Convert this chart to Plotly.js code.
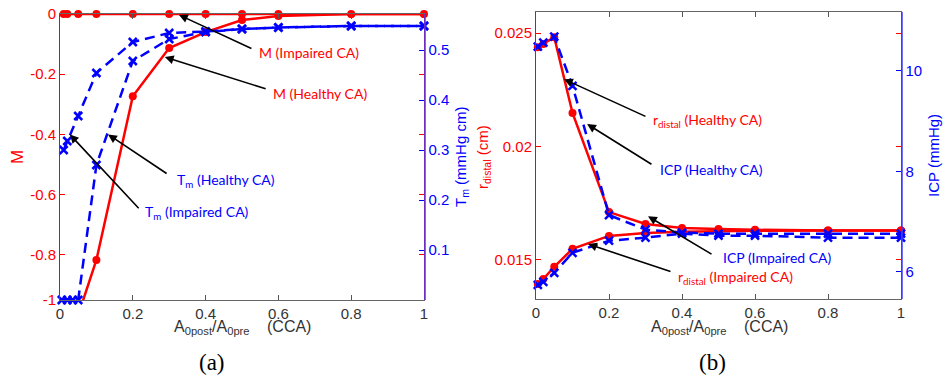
<!DOCTYPE html>
<html>
<head>
<meta charset="utf-8">
<script src="https://cdn.plot.ly/plotly-3.0.1.min.js"></script>
<style>html,body{margin:0;padding:0;background:#fff;}#chart{width:943px;height:378px;}</style>
</head>
<body>
<div id="chart"></div>
<script>
// ---- Panel (a) data ----
const xM = [0.01, 0.02, 0.05, 0.1, 0.2, 0.3, 0.4, 0.5, 0.6, 0.8, 1.0];
const mImpaired = [0, 0, 0, 0, 0, 0, 0, 0, 0, 0, 0];
const mHealthy = [-1, -1, -1, -0.817, -0.273, -0.113, -0.06, -0.02, -0.007, 0, 0];
const xTmImpaired = [0.01, 0.02, 0.05, 0.1, 0.2, 0.3, 0.4, 0.5, 0.6, 0.8, 1.0];
const tmImpaired = [0.30, 0.318, 0.368, 0.454, 0.516, 0.534, 0.537, 0.542, 0.545, 0.548, 0.548];
const xTmHealthy = [0.005, 0.02, 0.035, 0.05, 0.1, 0.2, 0.3, 0.4, 0.5, 0.6, 0.8, 1.0];
const tmHealthy = [0, 0, 0, 0, 0.27, 0.478, 0.522, 0.536, 0.542, 0.545, 0.548, 0.548];

// ---- Panel (b) data ----
const xR = [0.005, 0.02, 0.05, 0.1, 0.2, 0.3, 0.4, 0.5, 0.6, 0.8, 1.0];
const rHealthy = [0.02438, 0.02452, 0.02482, 0.02148, 0.01711, 0.01659, 0.01641, 0.01637, 0.01633, 0.0163, 0.0163];
const rImpaired = [0.01394, 0.01416, 0.0147, 0.01549, 0.01606, 0.01619, 0.01624, 0.01628, 0.01629, 0.0163, 0.0163];
const icpHealthy = [10.48, 10.56, 10.68, 9.70, 7.13, 6.84, 6.78, 6.76, 6.76, 6.76, 6.76];
const icpImpaired = [5.74, 5.80, 5.98, 6.38, 6.62, 6.68, 6.76, 6.72, 6.72, 6.68, 6.68];

// ---- Tick labels ----
const xTicks = [0, 0.2, 0.4, 0.6, 0.8, 1];
const xTickText = ['0', '0.2', '0.4', '0.6', '0.8', '1'];
const mTicks = [-0.95, -0.8, -0.6, -0.4, -0.2, 0];
const mTickText = ['-1', '-0.8', '-0.6', '-0.4', '-0.2', '0'];
const tmTicks = [0.1, 0.2, 0.3, 0.4, 0.5];
const rTicks = [0.015, 0.02, 0.025];
const rTickText = ['0.015', '0.02', '0.025'];
const icpTicks = [6, 8, 10];

const RED = '#ff0000', BLUE = '#0000ff';
const lineRed = {color: RED, width: 2.5};
const lineBlue = {color: BLUE, width: 2.5, dash: '10px,6px'};
const mkRed = {color: RED, size: 8, symbol: 'circle'};
const mkBlue = {color: BLUE, size: 8, symbol: 'x-thin', line: {color: BLUE, width: 2.5}};

const traces = [
  {x: xM, y: mImpaired, xaxis: 'x', yaxis: 'y', mode: 'lines+markers', line: lineRed, marker: mkRed, cliponaxis: false, name: 'M (Impaired CA)'},
  {x: xM, y: mHealthy, xaxis: 'x', yaxis: 'y', mode: 'lines+markers', line: lineRed, marker: mkRed, name: 'M (Healthy CA)'},
  {x: xTmImpaired, y: tmImpaired, xaxis: 'x', yaxis: 'y2', mode: 'lines+markers', line: lineBlue, marker: mkBlue, cliponaxis: false, name: 'Tm (Impaired CA)'},
  {x: xTmHealthy, y: tmHealthy, xaxis: 'x', yaxis: 'y2', mode: 'lines+markers', line: lineBlue, marker: mkBlue, cliponaxis: false, name: 'Tm (Healthy CA)'},
  {x: xR, y: icpHealthy, xaxis: 'x2', yaxis: 'y4', mode: 'lines+markers', line: lineBlue, marker: mkBlue, cliponaxis: false, name: 'ICP (Healthy CA)'},
  {x: xR, y: icpImpaired, xaxis: 'x2', yaxis: 'y4', mode: 'lines+markers', line: lineBlue, marker: mkBlue, cliponaxis: false, name: 'ICP (Impaired CA)'},
  {x: xR, y: rHealthy, xaxis: 'x2', yaxis: 'y3', mode: 'lines+markers', line: lineRed, marker: mkRed, cliponaxis: false, name: 'r_distal (Healthy CA)'},
  {x: xR, y: rImpaired, xaxis: 'x2', yaxis: 'y3', mode: 'lines+markers', line: lineRed, marker: mkRed, cliponaxis: false, name: 'r_distal (Impaired CA)'}
];

const tickFont = {family: 'Liberation Sans, Arial, sans-serif', size: 15};
function xAxis(domain, anchor) {
  return {domain: domain, anchor: anchor, range: [0, 1], tickvals: xTicks, ticktext: xTickText,
    ticks: 'inside', ticklen: 5, tickcolor: '#555', showline: true, linecolor: '#666', linewidth: 1,
    mirror: 'ticks', showgrid: false, zeroline: false, tickfont: Object.assign({color: '#333'}, tickFont), fixedrange: true};
}
function yAxisL(domain, anchor, range, tv, tt) {
  return {domain: domain, anchor: anchor, range: range, tickvals: tv, ticktext: tt,
    ticks: 'inside', ticklen: 5, tickcolor: RED, showline: true, linecolor: RED, linewidth: 1,
    mirror: 'ticks', showgrid: false, zeroline: false, tickfont: Object.assign({color: RED}, tickFont)};
}
function yAxisR(domain, anchor, over, range, tv) {
  return {domain: domain, anchor: anchor, overlaying: over, side: 'right', range: range, tickvals: tv,
    ticks: 'inside', ticklen: 5, tickcolor: BLUE, showline: true, linecolor: 'rgba(60,60,255,0.75)', linewidth: 1.5,
    showgrid: false, zeroline: false, tickfont: Object.assign({color: BLUE}, tickFont)};
}

const dxA = [60/943, 424/943], dyA = [1 - 300/378, 1 - 14/378];
const dxB = [536/943, 901/943], dyB = [1 - 299/378, 1 - 12/378];

const annFont = (c) => ({family: 'Lato, Open Sans, sans-serif', size: 14, color: c});
function arrow(xr, yr, hx, hy, tx, ty) {
  return {xref: xr, yref: yr, axref: xr, ayref: yr, x: hx, y: hy, ax: tx, ay: ty, text: '',
    showarrow: true, arrowhead: 2, arrowsize: 1.1, arrowwidth: 1.6, arrowcolor: '#000', standoff: 0, startstandoff: 0};
}
function label(xr, yr, x, y, text, color) {
  return {xref: xr, yref: yr, x: x, y: y, text: text, showarrow: false, xanchor: 'left', yanchor: 'middle', font: annFont(color)};
}
const titleFont = (c, s) => ({family: 'Liberation Sans, Arial, sans-serif', size: s || 15, color: c});

const annotations = [
  arrow('x', 'y', 0.327, -0.003, 0.530, -0.117),
  label('x', 'y', 0.540, -0.127, 'M (Impaired CA)', RED),
  arrow('x', 'y', 0.288, -0.143, 0.569, -0.250),
  label('x', 'y', 0.580, -0.263, 'M (Healthy CA)', RED),
  arrow('x', 'y', 0.132, -0.400, 0.297, -0.533),
  label('x', 'y', 0.316, -0.552, 'T<sub>m</sub> (Healthy CA)', BLUE),
  arrow('x', 'y', 0.027, -0.400, 0.220, -0.650),
  label('x', 'y', 0.228, -0.660, 'T<sub>m</sub> (Impaired CA)', BLUE),
  arrow('x2', 'y3', 0.0767, 0.02297, 0.304, 0.0213),
  label('x2', 'y3', 0.314, 0.02113, 'r<sub>distal</sub> (Healthy CA)', RED),
  arrow('x2', 'y3', 0.140, 0.02099, 0.3205, 0.01918),
  label('x2', 'y3', 0.333, 0.01898, 'ICP (Healthy CA)', BLUE),
  arrow('x2', 'y3', 0.307, 0.016925, 0.485, 0.01522),
  label('x2', 'y3', 0.506, 0.01510, 'ICP (Impaired CA)', BLUE),
  arrow('x2', 'y3', 0.1425, 0.0157, 0.3726, 0.01447),
  label('x2', 'y3', 0.383, 0.01422, 'r<sub>distal</sub> (Impaired CA)', RED),
  // axis titles
  {xref: 'paper', yref: 'paper', x: 17/943, y: 1 - 157/378, text: 'M', textangle: -90, showarrow: false, xanchor: 'center', yanchor: 'middle', font: titleFont(RED, 17)},
  {xref: 'paper', yref: 'paper', x: 461/943, y: 1 - 157/378, text: 'T<sub>m</sub> (mmHg cm)', textangle: -90, showarrow: false, xanchor: 'center', yanchor: 'middle', font: titleFont(BLUE)},
  {xref: 'paper', yref: 'paper', x: 483/943, y: 1 - 157/378, text: 'r<sub>distal</sub> (cm)', textangle: -90, showarrow: false, xanchor: 'center', yanchor: 'middle', font: titleFont(RED)},
  {xref: 'paper', yref: 'paper', x: 933/943, y: 1 - 156/378, text: 'ICP (mmHg)', textangle: -90, showarrow: false, xanchor: 'center', yanchor: 'middle', font: titleFont(BLUE)},
  {xref: 'paper', yref: 'paper', x: 172/943, y: 1 - 316/378, text: 'A<sub>0post</sub>/A<sub>0pre</sub>', showarrow: false, xanchor: 'left', yanchor: 'top', font: titleFont('#333', 16)},
  {xref: 'paper', yref: 'paper', x: 265/943, y: 1 - 326/378, text: '(CCA)', showarrow: false, xanchor: 'left', yanchor: 'middle', font: titleFont('#333', 16)},
  {xref: 'paper', yref: 'paper', x: 649/943, y: 1 - 316/378, text: 'A<sub>0post</sub>/A<sub>0pre</sub>', showarrow: false, xanchor: 'left', yanchor: 'top', font: titleFont('#333', 16)},
  {xref: 'paper', yref: 'paper', x: 742/943, y: 1 - 326/378, text: '(CCA)', showarrow: false, xanchor: 'left', yanchor: 'middle', font: titleFont('#333', 16)},
  {xref: 'paper', yref: 'paper', x: 212/943, y: 1 - 362/378, text: '(a)', showarrow: false, xanchor: 'center', yanchor: 'middle', font: {family: 'Liberation Serif, Times New Roman, serif', size: 23, color: '#000'}},
  {xref: 'paper', yref: 'paper', x: 712/943, y: 1 - 362/378, text: '(b)', showarrow: false, xanchor: 'center', yanchor: 'middle', font: {family: 'Liberation Serif, Times New Roman, serif', size: 23, color: '#000'}}
];

const layout = {
  width: 943, height: 378,
  margin: {l: 0, r: 0, t: 0, b: 0, pad: 0},
  paper_bgcolor: '#fff', plot_bgcolor: '#fff',
  showlegend: false,
  xaxis: xAxis(dxA, 'y'),
  yaxis: yAxisL(dyA, 'x', [-0.95, 0], mTicks, mTickText),
  yaxis2: yAxisR(dyA, 'x', 'y', [0, 0.572], tmTicks),
  xaxis2: xAxis(dxB, 'y3'),
  yaxis3: yAxisL(dyB, 'x2', [0.01328, 0.02593], rTicks, rTickText),
  yaxis4: yAxisR(dyB, 'x2', 'y3', [5.46, 11.17], icpTicks),
  annotations: annotations
};

Plotly.newPlot('chart', traces, layout, {staticPlot: true, displayModeBar: false});
</script>
</body>
</html>
